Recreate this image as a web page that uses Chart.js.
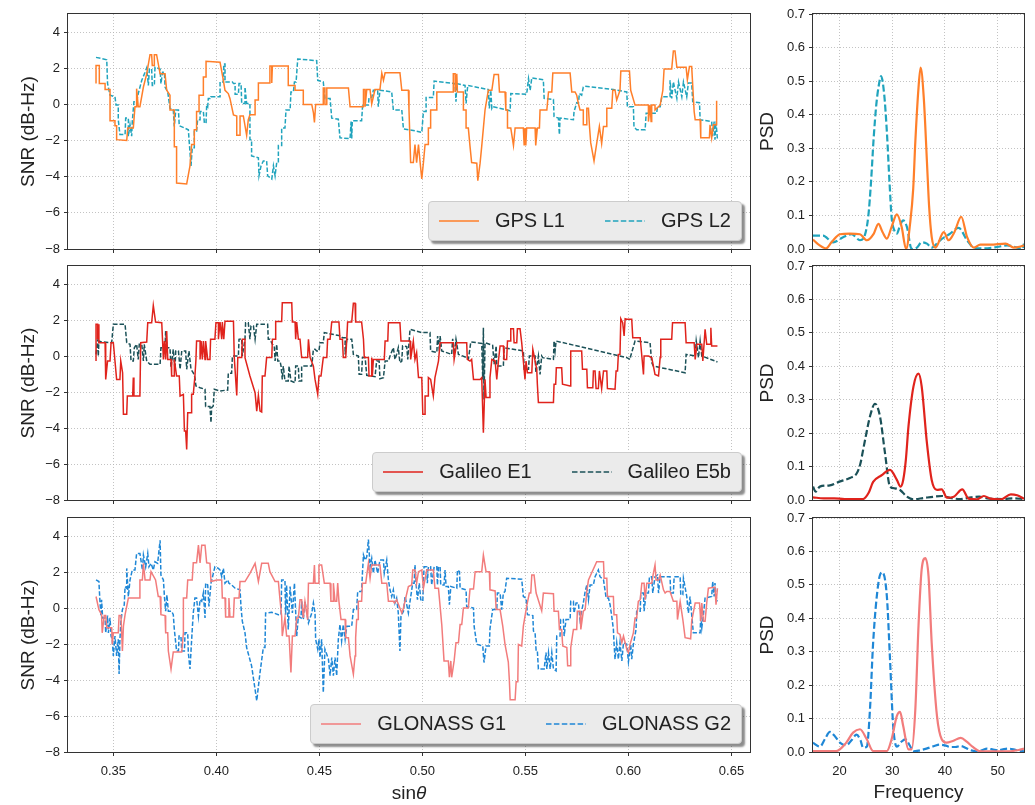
<!DOCTYPE html>
<html>
<head>
<meta charset="utf-8">
<title>SNR residuals and PSD</title>
<script src="https://cdn.jsdelivr.net/npm/chart.js@4.4.1/dist/chart.umd.min.js"></script>
<style>
  body { margin: 0; background: #fff; }
  #wrap { position: relative; width: 1035px; height: 805px; overflow: hidden; font-family: "Liberation Sans", Arial, Helvetica, sans-serif; color: #222; }
  #wrap canvas { position: absolute; left: 0; top: 0; }
  .legend { position: absolute; right: 293px; height: 40px; box-sizing: border-box; display: flex; align-items: center; padding: 0 10px; background: #ebebeb; border: 1px solid #cccccc; border-radius: 4px; box-shadow: 3px 3px 2px rgba(0,0,0,0.45); font-size: 20px; white-space: nowrap; }
  .legend .item { display: flex; align-items: center; }
  .legend .item + .item { margin-left: 40px; }
  .legend svg { margin-right: 16px; }
  #xlab { position: absolute; left: 409px; top: 793px; transform: translate(-50%, -50%); font-size: 19px; }
</style>
</head>
<body>
<div id="wrap">
  <canvas id="snr0" width="1035" height="805"></canvas>
  <canvas id="snr1" width="1035" height="805"></canvas>
  <canvas id="snr2" width="1035" height="805"></canvas>
  <canvas id="psd0" width="1035" height="805"></canvas>
  <canvas id="psd1" width="1035" height="805"></canvas>
  <canvas id="psd2" width="1035" height="805"></canvas>
  <div id="xlab">sin<i>θ</i></div>
</div>
<script>
// tick values
const sinTicks = [0.35, 0.40, 0.45, 0.50, 0.55, 0.60, 0.65];
const snrTicks = [-8, -6, -4, -2, 0, 2, 4];
const freqTicks = [20, 30, 40, 50];
const psdTicks = [0, 0.1, 0.2, 0.3, 0.4, 0.5, 0.6, 0.7];

// SNR residuals, [sinθ, dB-Hz]
const gpsL1 = [[0.3416,1.15],[0.3416,2.15],[0.3432,2.15],[0.3432,1.15],[0.3460,1.15],[0.3460,0.82],[0.3484,0.82],[0.3484,-0.91],[0.3508,-0.91],[0.3508,-1.18],[0.3516,-1.18],[0.3516,-1.95],[0.3565,-2.0],[0.3570,-1.31],[0.3597,-1.31],[0.3605,-0.13],[0.3613,-0.13],[0.3613,0.87],[0.3621,-0.13],[0.3629,-0.13],[0.3646,0.96],[0.3662,1.69],[0.3678,2.75],[0.3686,2.75],[0.3689,2.15],[0.3699,2.15],[0.3699,2.75],[0.3710,2.75],[0.3727,1.69],[0.3751,1.69],[0.3759,0.78],[0.3775,0.51],[0.3775,-0.31],[0.3796,-0.31],[0.3796,-2.35],[0.3807,-2.35],[0.3807,-4.35],[0.3856,-4.4],[0.3872,-3.4],[0.3880,-2.22],[0.3893,-2.22],[0.3893,-1.4],[0.3904,-1.4],[0.3904,-0.4],[0.3916,-0.4],[0.3916,0.51],[0.3937,0.51],[0.3937,1.51],[0.3950,1.51],[0.3950,2.38],[0.4018,2.33],[0.4034,1.33],[0.4042,0.78],[0.4058,0.6],[0.4066,0.33],[0.4083,-0.58],[0.4099,-0.64],[0.4099,-1.71],[0.4115,-1.71],[0.4115,-0.64],[0.4131,-0.64],[0.4147,-1.71],[0.4155,-0.85],[0.4163,-0.58],[0.4188,-0.58],[0.4188,0.24],[0.4204,0.24],[0.4204,1.18],[0.4260,1.18],[0.4260,2.13],[0.4269,2.13],[0.4269,1.18],[0.4272,2.13],[0.4349,2.13],[0.4349,1.05],[0.4382,1.05],[0.4382,0.78],[0.4422,0.78],[0.4422,0],[0.4463,0],[0.4471,-0.45],[0.4476,-1.0],[0.4482,0],[0.4519,0],[0.4519,0.91],[0.4527,0.91],[0.4527,0],[0.4536,0],[0.4536,0.91],[0.4641,0.91],[0.4649,-0.13],[0.4714,-0.13],[0.4714,0.82],[0.4722,0.82],[0.4722,-0.13],[0.4730,0.82],[0.4746,0.82],[0.4754,0.02],[0.4770,0.82],[0.4794,0.82],[0.4803,1.73],[0.4811,1.33],[0.4819,1.75],[0.4891,1.75],[0.4900,0.78],[0.4932,0.78],[0.4935,-0.31],[0.4943,-3.22],[0.4956,-3.22],[0.4964,-2.22],[0.4972,-3.22],[0.4981,-2.22],[0.4989,-3.22],[0.4997,-4.13],[0.5005,-3.22],[0.5013,-2.22],[0.5029,-2.22],[0.5029,-1.31],[0.5040,-1.31],[0.5040,-0.31],[0.5070,-0.31],[0.5070,0.69],[0.5150,0.69],[0.5150,1.69],[0.5159,1.69],[0.5159,0.69],[0.5167,1.69],[0.5170,0.69],[0.5199,0.69],[0.5199,-0.31],[0.5212,-0.31],[0.5212,-1.31],[0.5223,-1.31],[0.5231,-2.31],[0.5239,-3.22],[0.5264,-3.25],[0.5269,-4.22],[0.5280,-3.25],[0.5288,-2.31],[0.5296,-1.31],[0.5304,-0.31],[0.5320,0.78],[0.5337,0.78],[0.5348,1.65],[0.5369,1.65],[0.5374,0.69],[0.5401,0.69],[0.5405,-0.31],[0.5413,-0.31],[0.5413,-1.31],[0.5429,-1.31],[0.5442,-2.27],[0.5450,-1.31],[0.5490,-1.31],[0.5494,-2.27],[0.5498,-1.31],[0.5502,-2.27],[0.5506,-1.31],[0.5547,-1.31],[0.5550,-2.27],[0.5558,-1.31],[0.5568,-1.31],[0.5571,-0.31],[0.5604,-0.31],[0.5612,0.69],[0.5628,0.69],[0.5633,1.73],[0.5717,1.73],[0.5725,0.69],[0.5741,0.69],[0.5749,0.51],[0.5757,0.05],[0.5765,-0.31],[0.5781,-0.31],[0.5781,-1.13],[0.5798,-1.13],[0.5798,-0.22],[0.5806,-0.22],[0.5811,-1.22],[0.5817,-2.13],[0.5833,-3.13],[0.5846,-2.16],[0.5859,-1.22],[0.5870,-2.16],[0.5879,-1.22],[0.5892,-1.22],[0.5895,-0.22],[0.5919,-0.22],[0.5924,0.78],[0.5935,0.78],[0.5943,0.24],[0.5959,0.78],[0.5963,1.84],[0.6005,1.84],[0.6011,0.78],[0.6032,-0.04],[0.6097,-0.04],[0.6097,-0.95],[0.6105,-0.04],[0.6110,-0.95],[0.6113,-0.04],[0.6129,-0.04],[0.6129,-0.31],[0.6154,-0.04],[0.6167,0.78],[0.6173,1.96],[0.6210,1.96],[0.6218,2.96],[0.6226,2.96],[0.6235,2.05],[0.6280,2.05],[0.6286,1.36],[0.6296,2.09],[0.6307,2.09],[0.6319,-0.4],[0.6324,-0.85],[0.6348,-0.85],[0.6351,-1.85],[0.6393,-1.85],[0.6396,-1.13],[0.6404,-1.85],[0.6412,-1.13],[0.6428,-1.13],[0.6428,0.2]];
const gpsL2 = [[0.3416,2.6],[0.3468,2.47],[0.3472,1.15],[0.3484,0.51],[0.3508,0.42],[0.3513,-0.04],[0.3524,-0.04],[0.3524,-0.85],[0.3532,-1.67],[0.3557,-1.67],[0.3560,-0.76],[0.3573,-0.76],[0.3573,-1.76],[0.3581,-1.13],[0.3589,-1.76],[0.3592,-0.95],[0.3600,0.15],[0.3613,0.15],[0.3621,0.6],[0.3638,1.33],[0.3654,1.78],[0.3662,2.02],[0.3670,1.05],[0.3675,1.96],[0.3686,1.96],[0.3689,1.05],[0.3699,1.05],[0.3702,2.05],[0.3727,1.96],[0.3731,1.15],[0.3739,1.78],[0.3748,1.78],[0.3751,0.96],[0.3764,0.69],[0.3775,-0.22],[0.3791,-0.31],[0.3796,-1.22],[0.3803,-0.31],[0.3816,-0.31],[0.3820,-1.18],[0.3864,-1.4],[0.3877,-3.4],[0.3883,-2.4],[0.3893,-2.4],[0.3893,-1.49],[0.3904,-1.49],[0.3909,-0.85],[0.3921,-0.85],[0.3921,-0.4],[0.3937,-0.4],[0.3942,-1.04],[0.3950,-1.04],[0.3953,-0.04],[0.3958,-0.13],[0.3961,0.33],[0.3974,0.33],[0.3974,0.42],[0.4018,0.42],[0.4018,1.24],[0.4034,1.24],[0.4036,2.24],[0.4042,2.24],[0.4042,1.24],[0.4078,1.24],[0.4083,1.15],[0.4091,1.15],[0.4091,0.56],[0.4107,0.56],[0.4110,1.15],[0.4120,1.15],[0.4123,0.05],[0.4139,0.05],[0.4139,0.96],[0.4147,0.05],[0.4163,0.05],[0.4163,-1.95],[0.4171,-1.95],[0.4171,-2.85],[0.4204,-2.95],[0.4207,-3.95],[0.4217,-3.4],[0.4228,-3.13],[0.4244,-3.13],[0.4249,-3.95],[0.4269,-4.13],[0.4277,-3.4],[0.4285,-3.95],[0.4293,-3.22],[0.4301,-3.22],[0.4301,-2.27],[0.4317,-2.27],[0.4317,-1.31],[0.4333,-1.31],[0.4338,-0.31],[0.4358,-0.31],[0.4362,0.69],[0.4374,0.69],[0.4379,1.24],[0.4387,1.24],[0.4395,2.51],[0.4487,2.42],[0.4492,1.33],[0.4519,1.24],[0.4527,0.33],[0.4552,0.33],[0.4560,-0.76],[0.4592,-0.82],[0.4600,-1.85],[0.4649,-1.89],[0.4654,-0.95],[0.4657,-1.89],[0.4660,-0.91],[0.4705,-0.91],[0.4710,-0.04],[0.4738,-0.04],[0.4741,0.38],[0.4754,0.38],[0.4762,0.78],[0.4783,0.78],[0.4786,-0.13],[0.4794,0.78],[0.4851,0.69],[0.4859,-0.31],[0.4900,-0.31],[0.4908,-1.36],[0.4956,-1.44],[0.4997,-1.55],[0.5005,-0.4],[0.5018,-0.4],[0.5018,0.38],[0.5053,0.38],[0.5057,1.29],[0.5159,1.15],[0.5163,0.15],[0.5167,1.15],[0.5207,1.05],[0.5212,0.05],[0.5220,1.05],[0.5320,0.82],[0.5325,-0.22],[0.5332,0.78],[0.5337,-0.22],[0.5341,-0.13],[0.5426,-0.35],[0.5429,0.6],[0.5506,0.56],[0.5515,1.42],[0.5523,0.78],[0.5531,1.47],[0.5587,1.36],[0.5591,0.33],[0.5636,0.27],[0.5639,-0.67],[0.5660,-0.76],[0.5665,-1.67],[0.5668,-0.76],[0.5733,-0.85],[0.5736,-0.4],[0.5749,0.09],[0.5757,0.05],[0.5762,0.6],[0.5773,0.51],[0.5781,0.96],[0.5790,1.0],[0.5927,0.82],[0.5992,0.69],[0.5995,-0.13],[0.6024,-0.13],[0.6027,-1.25],[0.6040,-1.4],[0.6081,-1.4],[0.6086,-0.49],[0.6137,-0.49],[0.6141,-0.13],[0.6154,-0.13],[0.6162,0.42],[0.6202,0.42],[0.6202,1.33],[0.6210,0.33],[0.6218,1.24],[0.6235,0.33],[0.6243,1.24],[0.6259,0.42],[0.6267,1.24],[0.6283,0.42],[0.6291,1.18],[0.6307,1.18],[0.6312,0.15],[0.6345,0.09],[0.6348,-0.85],[0.6404,-0.95],[0.6409,-1.76],[0.6416,-0.95],[0.6420,-1.95],[0.6425,-0.95],[0.6432,-1.95]];
const galE1 = [[0.3416,-0.28],[0.3416,1.76],[0.3424,1.76],[0.3424,0.93],[0.3427,1.76],[0.3430,0.74],[0.3460,0.74],[0.3463,-1.3],[0.3472,-0.28],[0.3484,-0.28],[0.3489,0.74],[0.3500,0.74],[0.3508,-0.28],[0.3516,-1.3],[0.3532,-1.3],[0.3536,-0.28],[0.3545,-0.93],[0.3549,-3.24],[0.3565,-3.24],[0.3568,-2.22],[0.3594,-2.22],[0.3597,-1.2],[0.3600,-2.22],[0.3629,-2.22],[0.3633,0.74],[0.3662,0.78],[0.3667,1.85],[0.3686,1.85],[0.3694,2.81],[0.3705,1.89],[0.3735,1.85],[0.3743,-0.19],[0.3748,0.83],[0.3754,-0.19],[0.3759,1.39],[0.3764,-0.19],[0.3780,-0.19],[0.3783,-1.11],[0.3796,-1.11],[0.3796,-0.19],[0.3807,-1.11],[0.3820,-1.11],[0.3824,-2.22],[0.3840,-2.13],[0.3845,-4.17],[0.3851,-4.17],[0.3856,-5.19],[0.3861,-3.15],[0.3877,-3.15],[0.3880,-2.13],[0.3888,-2.13],[0.3896,-1.11],[0.3901,-0.19],[0.3904,0.83],[0.3921,0.83],[0.3921,-0.19],[0.3926,0.83],[0.3932,-0.19],[0.3937,0.83],[0.3945,-0.19],[0.3948,0.83],[0.3958,-0.19],[0.3969,-0.19],[0.3972,0.93],[0.3993,0.93],[0.3998,1.85],[0.4010,1.85],[0.4010,0.93],[0.4018,1.89],[0.4026,0.93],[0.4029,1.89],[0.4036,0.93],[0.4042,1.93],[0.4083,1.93],[0.4087,-0.09],[0.4099,-2.19],[0.4104,-0.09],[0.4123,-0.09],[0.4126,0.93],[0.4139,0.93],[0.4139,-0.09],[0.4163,-1.11],[0.4188,-2.04],[0.4196,-3.06],[0.4204,-2.19],[0.4212,-3.06],[0.4220,-3.11],[0.4223,-1.11],[0.4236,-1.11],[0.4244,-0.09],[0.4269,-0.09],[0.4272,0.93],[0.4285,0.93],[0.4288,1.91],[0.4317,1.91],[0.4320,2.96],[0.4366,2.96],[0.4369,1.89],[0.4382,1.89],[0.4385,0.93],[0.4390,1.89],[0.4398,0.93],[0.4406,0.93],[0.4414,-0.09],[0.4443,-0.09],[0.4447,0.93],[0.4455,-0.09],[0.4471,-0.56],[0.4479,-1.3],[0.4492,-2.13],[0.4498,-1.11],[0.4508,-1.11],[0.4519,-0.09],[0.4536,-0.09],[0.4540,0.93],[0.4552,0.93],[0.4560,1.89],[0.4595,1.89],[0.4600,0.93],[0.4612,0.93],[0.4616,-0.09],[0.4628,-0.09],[0.4633,0.93],[0.4637,1.89],[0.4657,1.89],[0.4665,2.93],[0.4673,2.93],[0.4676,1.89],[0.4705,1.89],[0.4714,0.93],[0.4718,-0.09],[0.4738,-0.09],[0.4741,-1.11],[0.4751,-1.11],[0.4754,-0.09],[0.4757,-1.11],[0.4762,-0.19],[0.4815,-0.19],[0.4819,0.83],[0.4832,0.83],[0.4835,1.85],[0.4891,1.85],[0.4896,0.83],[0.4940,0.83],[0.4943,-0.19],[0.4956,0.83],[0.4964,-0.19],[0.4972,0.19],[0.4981,-1.2],[0.4997,-1.2],[0.5002,-3.24],[0.5013,-3.24],[0.5013,-2.22],[0.5029,-2.22],[0.5029,-1.2],[0.5040,-1.3],[0.5053,-2.22],[0.5061,-1.2],[0.5078,-0.28],[0.5086,0.74],[0.5150,0.74],[0.5154,-0.19],[0.5167,0.74],[0.5215,0.74],[0.5218,-0.19],[0.5231,-0.28],[0.5239,-0.19],[0.5248,-1.3],[0.5280,-1.3],[0.5288,-1.2],[0.5296,-4.26],[0.5304,-1.3],[0.5309,-2.31],[0.5325,-2.31],[0.5328,-1.2],[0.5337,-0.19],[0.5353,-0.28],[0.5361,-1.3],[0.5369,-0.28],[0.5377,0.56],[0.5393,0.56],[0.5396,-0.19],[0.5409,-0.19],[0.5413,0.83],[0.5426,0.83],[0.5429,1.52],[0.5442,1.52],[0.5445,0.74],[0.5458,0.74],[0.5461,1.52],[0.5474,1.52],[0.5482,0.74],[0.5490,-0.28],[0.5498,-1.3],[0.5503,-0.28],[0.5510,-0.93],[0.5531,-0.93],[0.5536,0.37],[0.5555,-0.74],[0.5558,-1.57],[0.5563,-2.59],[0.5636,-2.59],[0.5639,-1.57],[0.5647,-1.57],[0.5650,-0.65],[0.5676,-0.65],[0.5680,-1.57],[0.5717,-1.67],[0.5720,0.28],[0.5773,0.28],[0.5777,-0.74],[0.5798,-0.74],[0.5801,-1.76],[0.5827,-1.76],[0.5830,-0.83],[0.5838,-0.83],[0.5843,-1.81],[0.5854,-1.81],[0.5859,-0.83],[0.5870,-1.81],[0.5879,-0.83],[0.5895,-0.83],[0.5898,-1.81],[0.5935,-1.85],[0.5940,-0.83],[0.5947,-0.83],[0.5951,0.09],[0.5959,0.09],[0.5963,2.07],[0.5972,1.85],[0.5979,1.11],[0.5984,2.07],[0.5992,2.04],[0.6016,2.04],[0.6021,1.02],[0.6057,1.02],[0.6065,0],[0.6073,-1.02],[0.6076,0],[0.6097,0],[0.6113,-0.09],[0.6129,-1.02],[0.6146,-1.11],[0.6154,-0.09],[0.6157,0.93],[0.6210,0.93],[0.6214,1.85],[0.6275,1.85],[0.6280,0.74],[0.6319,0.74],[0.6324,-0.19],[0.6332,0.65],[0.6356,0.65],[0.6361,-0.28],[0.6367,0.65],[0.6372,1.48],[0.6380,0.65],[0.6396,0.65],[0.6400,1.57],[0.6404,0.56],[0.6432,0.56]];
const galE5b = [[0.3416,0.09],[0.3424,0.93],[0.3427,0],[0.3430,0.83],[0.3443,0.78],[0.3492,0.74],[0.3500,1.76],[0.3557,1.76],[0.3565,0.74],[0.3581,0.65],[0.3586,-0.28],[0.3597,-0.28],[0.3602,0.46],[0.3613,0.65],[0.3621,-0.19],[0.3626,0.65],[0.3638,0.65],[0.3646,-0.28],[0.3650,0.65],[0.3662,-0.28],[0.3678,-0.46],[0.3727,-0.46],[0.3731,0.46],[0.3751,0.46],[0.3754,1.39],[0.3760,0.46],[0.3775,0.46],[0.3780,-0.65],[0.3791,0.37],[0.3799,-0.74],[0.3803,0.28],[0.3816,0.28],[0.3824,-0.74],[0.3832,0.28],[0.3851,0.28],[0.3856,-0.74],[0.3867,0.28],[0.3877,-0.74],[0.3888,-0.93],[0.3896,-1.2],[0.3901,-1.67],[0.3921,-1.76],[0.3945,-1.85],[0.3948,-2.81],[0.3969,-2.81],[0.3974,-3.7],[0.3977,-2.87],[0.3985,-2.78],[0.3990,-1.85],[0.4018,-1.94],[0.4055,-1.89],[0.4058,-0.96],[0.4074,-0.96],[0.4078,0],[0.4107,0],[0.4110,0.93],[0.4123,0.96],[0.4126,0],[0.4139,0.93],[0.4142,1.85],[0.4155,1.85],[0.4163,0.93],[0.4168,1.67],[0.4180,1.67],[0.4188,0.93],[0.4196,1.76],[0.4249,1.76],[0.4252,0.93],[0.4260,0.93],[0.4272,0.65],[0.4281,0.56],[0.4285,-0.28],[0.4293,0.65],[0.4298,-0.28],[0.4309,-0.28],[0.4314,-0.56],[0.4320,-1.3],[0.4325,-0.56],[0.4333,-1.39],[0.4349,-1.39],[0.4353,-0.56],[0.4362,-1.39],[0.4382,-1.48],[0.4385,-0.56],[0.4398,-0.56],[0.4401,-1.39],[0.4414,-1.39],[0.4414,-0.56],[0.4463,-0.56],[0.4471,0.37],[0.4479,0.37],[0.4487,0.28],[0.4498,0.28],[0.4503,0.74],[0.4519,0.74],[0.4524,1.3],[0.4605,1.11],[0.4612,1.02],[0.4625,1.02],[0.4625,0.09],[0.4633,0.93],[0.4657,0.93],[0.4665,0.09],[0.4689,0],[0.4693,-1.02],[0.4705,-1.02],[0.4709,-0.09],[0.4722,-0.09],[0.4730,-1.07],[0.4770,-1.15],[0.4778,-0.28],[0.4790,-0.28],[0.4794,-1.26],[0.4811,-1.2],[0.4819,-0.28],[0.4835,-0.28],[0.4843,0],[0.4859,0.46],[0.4867,-0.19],[0.4875,0.09],[0.4883,0.46],[0.4891,-0.37],[0.4900,-0.28],[0.4904,0.56],[0.4924,0.52],[0.4929,-0.19],[0.4940,1.48],[0.4997,1.3],[0.5037,1.3],[0.5040,0.28],[0.5070,0.19],[0.5074,1.11],[0.5083,0.28],[0.5086,1.11],[0.5094,0.28],[0.5142,0.09],[0.5147,0.96],[0.5155,0.09],[0.5163,0.93],[0.5175,0.09],[0.5215,-0.09],[0.5223,-0.19],[0.5235,0.78],[0.5288,0.7],[0.5293,-1.3],[0.5296,1.57],[0.5299,-2.41],[0.5304,0.74],[0.5341,0.59],[0.5348,-0.46],[0.5358,0.56],[0.5361,-0.56],[0.5393,-0.56],[0.5396,0.46],[0.5490,0.28],[0.5494,-0.74],[0.5515,-0.74],[0.5519,0],[0.5547,0],[0.5551,-0.93],[0.5563,0],[0.5571,-1.02],[0.5579,0],[0.5584,-0.09],[0.5636,-0.19],[0.5639,0.83],[0.5644,0.28],[0.5649,0.83],[0.5992,-0.09],[0.6008,-0.19],[0.6011,0],[0.6032,0.83],[0.6105,0.74],[0.6113,-0.37],[0.6121,-0.56],[0.6275,-0.93],[0.6280,0.09],[0.6324,0],[0.6329,0.83],[0.6340,-0.09],[0.6348,0.83],[0.6356,0],[0.6432,-0.33]];
const gloG1 = [[0.3416,0.64],[0.3430,-0.09],[0.3443,-0.37],[0.3446,-1.38],[0.3456,-0.42],[0.3463,-0.42],[0.3468,-1.1],[0.3492,-1.1],[0.3495,-2.02],[0.3500,-1.38],[0.3524,-1.38],[0.3528,-0.42],[0.3537,-0.42],[0.3544,-2.39],[0.3549,-1.01],[0.3557,-0.37],[0.3573,0.55],[0.3625,0.55],[0.3629,1.56],[0.3641,1.56],[0.3646,2.48],[0.3654,1.56],[0.3678,1.56],[0.3683,2.02],[0.3705,1.56],[0.3718,0.64],[0.3727,0.64],[0.3731,-0.37],[0.3751,-0.42],[0.3754,-1.38],[0.3764,-1.38],[0.3767,-2.39],[0.3780,-3.39],[0.3791,-2.44],[0.3832,-2.44],[0.3840,-1.38],[0.3840,0.55],[0.3856,0.55],[0.3861,1.56],[0.3883,1.56],[0.3888,2.51],[0.3904,2.51],[0.3913,3.49],[0.3921,2.51],[0.3929,3.49],[0.3945,3.49],[0.3953,2.51],[0.3969,2.48],[0.3974,1.47],[0.4002,1.56],[0.4026,1.56],[0.4029,0.55],[0.4042,0.55],[0.4045,-0.5],[0.4058,-0.5],[0.4061,0.55],[0.4066,-0.5],[0.4083,-0.5],[0.4087,0.55],[0.4110,0.55],[0.4115,1.47],[0.4139,1.47],[0.4163,1.93],[0.4188,2.48],[0.4204,1.47],[0.4220,2.48],[0.4252,2.48],[0.4260,2.02],[0.4285,1.47],[0.4301,1.47],[0.4309,0.46],[0.4317,-0.46],[0.4320,-1.56],[0.4333,-0.55],[0.4341,-1.56],[0.4353,-1.56],[0.4362,-3.58],[0.4369,-1.56],[0.4382,-1.56],[0.4390,-0.55],[0.4398,-0.55],[0.4406,0.46],[0.4414,0.46],[0.4422,-0.55],[0.4430,0.37],[0.4443,-0.64],[0.4447,1.38],[0.4471,1.38],[0.4476,2.39],[0.4479,1.38],[0.4495,1.38],[0.4498,2.39],[0.4511,2.39],[0.4524,1.38],[0.4552,1.38],[0.4556,0.37],[0.4568,0.37],[0.4568,1.38],[0.4576,0.37],[0.4584,0.37],[0.4589,1.38],[0.4595,0.37],[0.4605,-0.64],[0.4625,-0.64],[0.4628,-1.65],[0.4641,-1.65],[0.4649,-2.66],[0.4665,-3.67],[0.4673,-2.66],[0.4676,-1.65],[0.4681,-0.64],[0.4689,-0.64],[0.4689,0.37],[0.4705,0.37],[0.4709,1.38],[0.4725,1.38],[0.4730,1.83],[0.4738,2.48],[0.4746,1.65],[0.4754,2.39],[0.4794,2.39],[0.4803,1.38],[0.4827,1.38],[0.4835,0.37],[0.4859,0.37],[0.4864,0.28],[0.4875,0.46],[0.4900,-0.28],[0.4908,0],[0.4932,1.19],[0.4948,1.28],[0.4953,2.11],[0.4964,2.11],[0.4972,1.38],[0.4981,2.02],[0.4997,2.11],[0.5005,1.1],[0.5021,2.11],[0.5053,2.11],[0.5061,1.1],[0.5078,1.1],[0.5086,0.09],[0.5094,-0.92],[0.5105,-2.94],[0.5126,-2.94],[0.5131,-3.85],[0.5138,-2.94],[0.5142,-3.85],[0.5154,-2.94],[0.5163,-1.93],[0.5175,-1.93],[0.5183,-0.92],[0.5191,-0.92],[0.5199,0],[0.5223,0],[0.5231,1.05],[0.5248,1.05],[0.5256,2.02],[0.5288,2.02],[0.5296,2.94],[0.5309,2.02],[0.5325,2.02],[0.5328,1.01],[0.5353,0.95],[0.5358,-0.09],[0.5377,-0.09],[0.5390,-1.01],[0.5401,-2.02],[0.5417,-3.0],[0.5422,-4.0],[0.5426,-5.1],[0.5450,-5.1],[0.5455,-4.1],[0.5463,-4.1],[0.5466,-2.02],[0.5482,-2.11],[0.5490,-1.01],[0.5506,0.09],[0.5519,0.83],[0.5526,0.83],[0.5531,1.83],[0.5542,1.83],[0.5552,0.83],[0.5579,-0.15],[0.5587,0.83],[0.5636,0.79],[0.5639,-0.18],[0.5660,-0.18],[0.5665,-1.19],[0.5676,-1.19],[0.5681,-2.11],[0.5701,-2.2],[0.5705,-3.21],[0.5717,-3.21],[0.5720,-2.2],[0.5733,-1.19],[0.5749,-1.19],[0.5752,-0.18],[0.5765,-0.18],[0.5769,-1.19],[0.5781,-0.18],[0.5790,-0.09],[0.5798,0.92],[0.5806,1.56],[0.5846,2.57],[0.5879,2.57],[0.5882,1.65],[0.5895,1.65],[0.5898,0.64],[0.5927,0.64],[0.5930,-0.37],[0.5943,-0.37],[0.5947,-1.38],[0.5959,-1.47],[0.5968,-1.93],[0.5976,-1.56],[0.5992,-2.29],[0.6000,-2.48],[0.6008,-2.02],[0.6024,-1.38],[0.6032,-0.55],[0.6040,-0.55],[0.6048,0.37],[0.6057,0.46],[0.6065,1.38],[0.6076,1.38],[0.6081,0.46],[0.6089,1.38],[0.6113,1.38],[0.6121,1.93],[0.6129,2.39],[0.6134,1.56],[0.6146,1.56],[0.6154,1.83],[0.6170,1.01],[0.6178,0.83],[0.6186,0.92],[0.6202,0.92],[0.6218,0.37],[0.6235,0.37],[0.6238,-0.64],[0.6251,0.37],[0.6264,-0.64],[0.6275,-1.65],[0.6302,-1.71],[0.6307,-0.73],[0.6324,0.28],[0.6345,0.28],[0.6351,-0.73],[0.6356,0.28],[0.6364,-0.73],[0.6372,-0.73],[0.6380,0.28],[0.6388,1.1],[0.6420,1.16],[0.6425,0.18],[0.6432,1.1]];
const gloG2 = [[0.3416,1.56],[0.3430,1.47],[0.3435,0.37],[0.3440,-0.46],[0.3443,0.46],[0.3448,-0.55],[0.3460,-0.55],[0.3463,-1.38],[0.3472,-0.42],[0.3476,-1.38],[0.3484,-0.55],[0.3489,-1.56],[0.3495,-1.74],[0.3500,-2.66],[0.3508,-1.56],[0.3516,-2.66],[0.3524,-1.74],[0.3528,-3.67],[0.3532,-1.74],[0.3537,-0.73],[0.3544,-0.09],[0.3553,0.18],[0.3557,1.19],[0.3565,1.1],[0.3565,2.2],[0.3573,0.64],[0.3581,1.56],[0.3592,2.11],[0.3605,2.11],[0.3613,3.03],[0.3629,3.03],[0.3634,2.66],[0.3641,2.11],[0.3646,2.94],[0.3657,2.29],[0.3667,3.03],[0.3673,2.29],[0.3683,2.48],[0.3694,2.11],[0.3702,2.57],[0.3715,2.48],[0.3727,3.76],[0.3731,1.83],[0.3743,1.56],[0.3748,0.64],[0.3754,-0.18],[0.3760,0.73],[0.3767,-0.18],[0.3783,-0.18],[0.3791,-0.37],[0.3796,-1.19],[0.3807,-2.39],[0.3816,-2.39],[0.3819,-1.56],[0.3828,-1.56],[0.3832,-2.39],[0.3845,-2.39],[0.3848,-1.38],[0.3861,-1.38],[0.3864,-2.48],[0.3872,-3.39],[0.3883,-1.19],[0.3888,-0.28],[0.3896,0.55],[0.3904,0.55],[0.3913,-0.46],[0.3921,0.46],[0.3929,0.37],[0.3937,0.83],[0.3945,-0.55],[0.3948,1.38],[0.3958,1.28],[0.3964,0.09],[0.3974,1.38],[0.3993,2.29],[0.4010,2.2],[0.4018,2.11],[0.4026,1.74],[0.4034,2.2],[0.4042,1.38],[0.4055,1.56],[0.4061,1.38],[0.4074,1.28],[0.4091,1.1],[0.4115,1.01],[0.4120,0],[0.4126,-0.73],[0.4139,-1.38],[0.4147,-2.2],[0.4171,-3.21],[0.4196,-5.15],[0.4212,-3.58],[0.4228,-2.2],[0.4236,-2.2],[0.4239,-0.28],[0.4269,-0.24],[0.4301,-0.37],[0.4314,-0.37],[0.4317,1.56],[0.4333,1.56],[0.4336,-0.37],[0.4341,1.28],[0.4349,-1.19],[0.4358,1.19],[0.4369,-0.28],[0.4379,1.38],[0.4390,-1.56],[0.4398,-0.46],[0.4411,-0.55],[0.4414,0.37],[0.4422,-0.64],[0.4430,0.37],[0.4438,-0.18],[0.4447,-0.83],[0.4463,-0.28],[0.4471,0.28],[0.4479,-0.28],[0.4482,-1.74],[0.4492,-2.29],[0.4498,-1.74],[0.4503,-2.75],[0.4511,-1.74],[0.4519,-4.7],[0.4527,-2.29],[0.4544,-2.84],[0.4552,-3.76],[0.4560,-2.75],[0.4568,-3.76],[0.4576,-2.75],[0.4584,-3.76],[0.4592,-1.74],[0.4600,-0.92],[0.4608,-1.83],[0.4616,-0.92],[0.4625,-1.74],[0.4633,-1.01],[0.4657,-1.01],[0.4665,-0.09],[0.4681,-0.09],[0.4686,0.92],[0.4705,0.92],[0.4709,1.93],[0.4714,2.94],[0.4722,2.66],[0.4730,2.84],[0.4738,3.8],[0.4746,2.29],[0.4754,2.75],[0.4762,1.93],[0.4770,2.66],[0.4783,1.93],[0.4794,2.66],[0.4811,2.66],[0.4815,1.93],[0.4827,2.66],[0.4835,1.56],[0.4843,1.01],[0.4851,0.64],[0.4859,1.01],[0.4867,0.28],[0.4875,0.55],[0.4883,-0.28],[0.4891,-2.39],[0.4896,-0.46],[0.4908,-0.18],[0.4916,0.64],[0.4932,-0.28],[0.4940,0.37],[0.4953,1.38],[0.4960,1.38],[0.4964,2.39],[0.4969,1.38],[0.4976,0.46],[0.4985,1.38],[0.4992,0.46],[0.5002,0.37],[0.5008,2.29],[0.5021,2.29],[0.5024,1.38],[0.5029,2.29],[0.5040,2.29],[0.5045,1.28],[0.5057,2.29],[0.5070,2.29],[0.5073,1.28],[0.5078,2.29],[0.5086,2.29],[0.5089,1.28],[0.5105,1.28],[0.5110,2.11],[0.5115,1.19],[0.5126,1.19],[0.5131,0.18],[0.5138,1.19],[0.5167,1.1],[0.5170,2.11],[0.5180,2.02],[0.5183,1.1],[0.5212,1.01],[0.5215,0.09],[0.5248,0],[0.5251,-1.01],[0.5264,-2.02],[0.5293,-2.11],[0.5299,-3.03],[0.5309,-2.11],[0.5325,-2.11],[0.5328,-1.16],[0.5341,-0.09],[0.5361,-0.09],[0.5364,0.83],[0.5377,0.83],[0.5385,-0.09],[0.5393,0.83],[0.5401,0.92],[0.5409,1.65],[0.5482,1.6],[0.5490,0.64],[0.5503,0.55],[0.5510,-0.37],[0.5536,-0.42],[0.5539,-1.28],[0.5547,-1.38],[0.5552,-2.39],[0.5558,-2.39],[0.5563,-3.39],[0.5591,-3.39],[0.5600,-2.48],[0.5604,-3.39],[0.5612,-2.48],[0.5620,-3.39],[0.5628,-2.48],[0.5636,-3.39],[0.5649,-3.49],[0.5652,-1.56],[0.5668,-1.56],[0.5671,-0.64],[0.5684,-0.64],[0.5688,-1.56],[0.5697,-0.64],[0.5717,-0.64],[0.5720,0.37],[0.5733,0.37],[0.5736,-0.28],[0.5746,0.28],[0.5757,0.28],[0.5765,-0.64],[0.5781,0.28],[0.5790,0.92],[0.5798,1.28],[0.5806,0.46],[0.5814,1.28],[0.5830,1.28],[0.5838,1.74],[0.5854,2.11],[0.5862,1.74],[0.5879,1.56],[0.5892,0.55],[0.5903,0.55],[0.5911,0.18],[0.5919,-0.46],[0.5927,-1.19],[0.5930,-1.93],[0.5935,-2.84],[0.5943,-1.93],[0.5951,-2.84],[0.5959,-1.93],[0.5968,-2.94],[0.5976,-1.93],[0.5992,-2.02],[0.6000,-2.99],[0.6011,-2.02],[0.6016,-2.84],[0.6024,-2.02],[0.6037,-1.19],[0.6040,-0.18],[0.6057,-0.18],[0.6060,0.83],[0.6073,0.83],[0.6076,-0.18],[0.6086,0.83],[0.6097,0.83],[0.6102,1.74],[0.6113,1.74],[0.6118,0.83],[0.6129,1.74],[0.6141,1.83],[0.6146,0.83],[0.6154,1.74],[0.6202,1.74],[0.6205,0.83],[0.6218,0.83],[0.6222,1.74],[0.6251,1.74],[0.6254,0.73],[0.6264,0.73],[0.6267,1.65],[0.6283,0.64],[0.6291,-0.28],[0.6299,0.64],[0.6307,-0.37],[0.6315,-1.38],[0.6348,-1.38],[0.6351,-0.37],[0.6356,-1.1],[0.6364,-0.37],[0.6372,0.55],[0.6404,0.64],[0.6409,1.47],[0.6416,0.64],[0.6420,1.38],[0.6425,0.64],[0.6432,0.37]];

// power spectral density, [frequency, PSD]
const psdGpsL1 = [[15,0.028],[16,0.014],[17.5,0.002],[18.5,0.02],[20.1,0.044],[22,0.046],[23.9,0.044],[25.2,0.026],[26.5,0.045],[27.4,0.075],[28.2,0.05],[29,0.031],[29.9,0.066],[30.9,0.103],[31.8,0.066],[32.65,0.0],[33.4,0.075],[34,0.18],[34.4,0.32],[35,0.48],[35.4,0.54],[36,0.45],[36.6,0.26],[37,0.13],[37.5,0.036],[38.2,0.004],[39.8,0.05],[40.7,0.026],[41.8,0.05],[43.1,0.096],[44.2,0.036],[45.5,0.004],[46.7,0.013],[48.6,0.013],[51.5,0.016],[53.1,0.004],[55,0.01]];
const psdGpsL2 = [[15,0.04],[16.9,0.04],[18.8,0.02],[20.7,0.035],[22.3,0.044],[23.9,0.026],[24.8,0.04],[25.5,0.1],[26,0.2],[26.5,0.33],[27,0.43],[27.5,0.49],[27.9,0.515],[28.5,0.46],[29,0.35],[29.5,0.2],[29.9,0.095],[30.4,0.056],[30.9,0.046],[31.5,0.07],[32.1,0.085],[32.8,0.066],[33.7,0.0],[34.7,0.004],[35.6,0.02],[36.6,0.016],[37.5,0.004],[39.1,0.026],[41,0.046],[42.6,0.063],[44.2,0.026],[45.5,0.004],[47.4,0.002],[49.9,0.006],[51.8,0.011],[53.7,0.004],[54.7,0.0],[55,0.016]];
const psdGalE1 = [[15,0.008],[17,0.005],[19,0.005],[21,0.003],[24.5,0.003],[25.5,0.02],[26.4,0.054],[28,0.074],[29.6,0.09],[30.9,0.06],[31.6,0.04],[32.1,0.06],[32.6,0.12],[33.1,0.22],[34.05,0.34],[35,0.378],[35.6,0.34],[36.6,0.17],[37.5,0.06],[38.5,0.03],[39.4,0.032],[40.4,0.007],[41.7,0.01],[43.3,0.032],[44.5,0.004],[46.1,0.002],[47.4,0.012],[48.65,0.004],[50.6,0.002],[52.5,0.017],[53.7,0.014],[55,0.004]];
const psdGalE5b = [[15,0.04],[15.5,0.025],[16.3,0.04],[18.2,0.044],[20,0.055],[22,0.066],[23.3,0.08],[24,0.11],[24.5,0.15],[25,0.19],[25.8,0.25],[26.75,0.288],[27.7,0.25],[28.65,0.14],[29.6,0.04],[30.5,0.035],[31.5,0.03],[32.8,0.01],[34,0.002],[36,0.006],[38,0.01],[39.5,0.012],[41,0.006],[43,0.003],[45,0.008],[46.5,0.01],[48,0.005],[51,0.003],[53,0.005],[55,0.003]];
const psdGloG1 = [[15,0.003],[19.4,0.003],[21.3,0.028],[22.6,0.058],[23.9,0.068],[25.2,0.038],[26.4,0.003],[29,0.003],[29.9,0.038],[30.9,0.108],[31.5,0.12],[32.1,0.078],[33.1,0.008],[33.7,0.008],[34.4,0.128],[35,0.377],[35.6,0.546],[36.3,0.58],[36.9,0.526],[37.5,0.327],[38.5,0.108],[39.4,0.038],[40.3,0.028],[41.5,0.033],[43,0.042],[44.2,0.03],[45.3,0.015],[46.5,0.003],[48,0.002],[52,0.002],[54,0.006],[55,0.01]];
const psdGloG2 = [[15,0.028],[16.3,0.016],[17.3,0.04],[18.2,0.06],[19,0.05],[20.1,0.028],[21.3,0.02],[22.3,0.035],[23.25,0.052],[24,0.035],[24.5,0.013],[25.2,0.016],[25.8,0.127],[26.4,0.327],[27.4,0.506],[28.1,0.538],[29,0.466],[29.6,0.277],[30.2,0.078],[30.9,0.016],[31.7,0.03],[32.5,0.038],[33.4,0.018],[34,0.002],[35,0.004],[36.5,0.01],[38,0.018],[39,0.022],[40,0.02],[41,0.015],[42,0.015],[43,0.018],[44,0.012],[45,0.005],[46,0.002],[47,0.005],[48,0.01],[49,0.008],[50,0.005],[51,0.008],[52,0.01],[53,0.008],[54,0.004],[55,0.002]];

const rows = [
    { top: 14, bottom: 249, series: [
        { label: 'GPS L1', snr: gpsL1, psd: psdGpsL1, color: '#ff7f2a', dashed: false },
        { label: 'GPS L2', snr: gpsL2, psd: psdGpsL2, color: '#20a4bd', dashed: true } ] },
    { top: 266, bottom: 500, series: [
        { label: 'Galileo E1', snr: galE1, psd: psdGalE1, color: '#e0231c', dashed: false },
        { label: 'Galileo E5b', snr: galE5b, psd: psdGalE5b, color: '#1b5158', dashed: true } ] },
    { top: 518, bottom: 752, series: [
        { label: 'GLONASS G1', snr: gloG1, psd: psdGloG1, color: '#f27c7c', dashed: false },
        { label: 'GLONASS G2', snr: gloG2, psd: psdGloG2, color: '#1f87d6', dashed: true } ] }
];

const W = 1035, H = 805;

Chart.defaults.font.family = "'Liberation Sans', Arial, Helvetica, sans-serif";
Chart.defaults.color = '#222';

// axes frame, like a matplotlib spine box
Chart.register({
    id: 'frame',
    afterDraw(chart) {
        const { ctx, chartArea: a } = chart;
        ctx.save();
        ctx.strokeStyle = '#333';
        ctx.lineWidth = 1;
        ctx.strokeRect(Math.round(a.left) - 0.5, Math.round(a.top) - 0.5, Math.round(a.right - a.left) + 1, Math.round(a.bottom - a.top) + 1);
        ctx.restore();
    }
});

const gridStyle = { color: '#b4b4b4', lineWidth: 0.8, tickLength: 4, tickColor: '#333', tickWidth: 1, tickBorderDash: [] };
const borderStyle = { display: false, dash: [1, 2] };
const tickFont = { size: 13 };
const titleFont = { size: 19 };

const minus = v => v < 0 ? '\u2212' + Math.abs(v) : String(v);
const fixedTicks = values => scale => { scale.ticks = values.map(v => ({ value: v })); };
const toPoints = arr => arr.map(p => ({ x: p[0], y: p[1] }));

rows.forEach((row, i) => {
    const last = i === rows.length - 1;
    const xh = last ? 52 : 4;

    new Chart(document.getElementById('snr' + i), {
        type: 'line',
        data: {
            datasets: row.series.map(s => ({
                label: s.label,
                data: toPoints(s.snr),
                borderColor: s.color,
                borderWidth: 1.5,
                borderDash: s.dashed ? [4.5, 2] : [],
                pointRadius: 0,
                tension: 0,
                fill: false
            }))
        },
        options: {
            responsive: false,
            animation: false,
            events: [],
            layout: { padding: { left: 17, right: W - 750, top: row.top, bottom: H - row.bottom - xh } },
            plugins: { legend: { display: false }, tooltip: { enabled: false } },
            scales: {
                x: {
                    type: 'linear', min: 0.328, max: 0.659,
                    afterBuildTicks: fixedTicks(sinTicks),
                    afterFit: s => { s.height = xh; },
                    ticks: { display: last, font: tickFont, padding: 8, maxRotation: 0, autoSkip: false, callback: v => v.toFixed(2) },
                    grid: gridStyle, border: borderStyle
                },
                y: {
                    type: 'linear', min: -8, max: 5,
                    afterBuildTicks: fixedTicks(snrTicks),
                    afterFit: s => { s.width = 51; },
                    ticks: { font: tickFont, padding: 4, autoSkip: false, callback: minus },
                    title: { display: true, text: 'SNR (dB-Hz)', font: titleFont, padding: 0 },
                    grid: gridStyle, border: borderStyle
                }
            }
        }
    });

    new Chart(document.getElementById('psd' + i), {
        type: 'line',
        data: {
            datasets: row.series.map(s => ({
                label: s.label,
                data: toPoints(s.psd),
                borderColor: s.color,
                borderWidth: 2.2,
                borderDash: s.dashed ? [7, 3] : [],
                pointRadius: 0,
                cubicInterpolationMode: 'monotone',
                fill: false
            }))
        },
        options: {
            responsive: false,
            animation: false,
            events: [],
            layout: { padding: { left: 756, right: W - 1024, top: row.top, bottom: H - row.bottom - xh } },
            plugins: { legend: { display: false }, tooltip: { enabled: false } },
            scales: {
                x: {
                    type: 'linear', min: 15, max: 55,
                    afterBuildTicks: fixedTicks(freqTicks),
                    afterFit: s => { s.height = xh; },
                    ticks: { display: last, font: tickFont, padding: 8, maxRotation: 0, autoSkip: false, callback: v => String(v) },
                    title: { display: last, text: 'Frequency', font: titleFont, padding: 0 },
                    grid: gridStyle, border: borderStyle
                },
                y: {
                    type: 'linear', min: 0, max: 0.7,
                    afterBuildTicks: fixedTicks(psdTicks),
                    afterFit: s => { s.width = 57; },
                    ticks: { font: tickFont, padding: 4, autoSkip: false, callback: v => v.toFixed(1) },
                    title: { display: true, text: 'PSD', font: titleFont, padding: 0 },
                    grid: gridStyle, border: borderStyle
                }
            }
        }
    });

    // legend box in the lower right of each SNR panel
    const box = document.createElement('div');
    box.className = 'legend';
    box.style.top = (row.bottom - 48.5) + 'px';
    row.series.forEach(s => {
        const item = document.createElement('div');
        item.className = 'item';
        const dash = s.dashed ? ' stroke-dasharray="5.5 2.4"' : '';
        item.innerHTML = `<svg width="40" height="10"><line x1="0" y1="5" x2="40" y2="5" stroke="${s.color}" stroke-width="1.5"${dash}/></svg><span>${s.label}</span>`;
        box.appendChild(item);
    });
    document.getElementById('wrap').appendChild(box);
});
</script>
</body>
</html>
